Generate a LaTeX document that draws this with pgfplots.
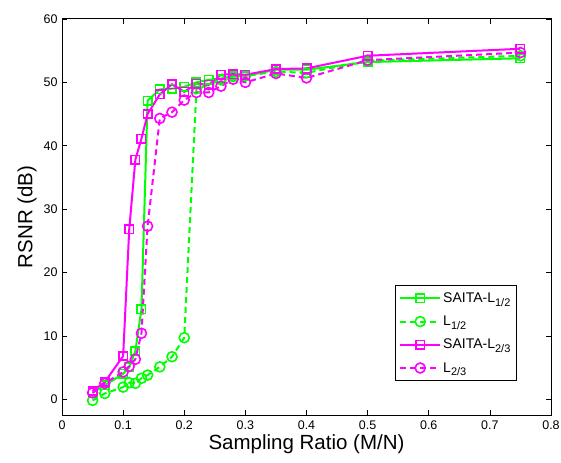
\documentclass[border=0pt]{standalone}
\usepackage{pgfplots}
\pgfplotsset{compat=1.18}
\usepackage{fontspec}
\setmainfont{Liberation Sans}
\definecolor{mg}{RGB}{0,255,0}
\definecolor{mm}{RGB}{255,0,255}
\newcommand{\sub}[1]{\raisebox{-0.5ex}{\fontsize{11}{12}\selectfont #1}}
\pgfplotstableread{
x     sa12  l12   sa23  l23
0.05  1.0   -0.2  1.3   1.0
0.07  2.2   0.9   2.7   2.5
0.10  4.0   1.9   6.8   4.3
0.11  5.0   2.6   26.8  5.2
0.12  7.6   2.5   37.8  6.3
0.13  14.2  3.3   41.1  10.4
0.14  47.1  3.8   45.0  27.3
0.16  48.9  5.1   48.1  44.3
0.18  49.0  6.7   49.7  45.3
0.20  49.3  9.7   48.5  47.2
0.22  50.0  49.0  49.8  48.4
0.24  50.4  49.6  49.6  48.4
0.26  50.6  50.4  51.2  49.4
0.28  51.0  50.9  51.3  50.5
0.30  51.0  51.0  51.2  50.0
0.35  52.0  51.7  52.1  51.4
0.40  52.0  51.5  52.2  50.7
0.50  53.2  53.4  54.2  53.5
0.75  53.8  54.2  55.3  54.7
}\data
\begin{document}
\begin{tikzpicture}
\begin{axis}[
  scale only axis,
  width=489pt, height=396pt,
  xmin=0, xmax=0.8, ymin=-2.5, ymax=60,
  xtick={0,0.1,...,0.8}, ytick={0,10,...,60},
  tick align=inside,
  major tick length=5pt,
  tick style={black, line width=0.6pt},
  axis line style={black, line width=1pt},
  /pgf/number format/assume math mode=true,
  /pgf/number format/fixed,
  ticklabel style={font=\fontsize{12.5}{14}\selectfont},
  xticklabel style={yshift=-2pt},
  yticklabel style={xshift=-1pt},
  xlabel={Sampling Ratio (M/N)},
  ylabel={RSNR (dB)},
  label style={font=\fontsize{20.5}{24}\selectfont},
  xlabel style={yshift=2pt},
  legend cell align=left,
  legend style={at={(0.930,0.086)}, anchor=south east, draw=black, line width=0.8pt,
    fill=white, font=\fontsize{14}{16}\selectfont, row sep=8pt,
    inner xsep=4pt, inner ysep=5pt},
  legend image code/.code={\draw[mark repeat=2,mark phase=2,#1] plot coordinates {(0pt,0pt)(20pt,0pt)(40pt,0pt)};},
]
\addplot[color=mg, line width=2pt, mark=square, mark size=4.2pt, mark options={solid, line width=1.6pt}] table[x=x,y=sa12] {\data};
\addlegendentry{SAITA-L\sub{1/2}}
\addplot[color=mg, line width=2pt, dash pattern=on 6pt off 4pt, mark=o, mark size=5pt, mark options={solid, line width=1.6pt}] table[x=x,y=l12] {\data};
\addlegendentry{L\sub{1/2}}
\addplot[color=mm, line width=2pt, mark=square, mark size=4.2pt, mark options={solid, line width=1.6pt}] table[x=x,y=sa23] {\data};
\addlegendentry{SAITA-L\sub{2/3}}
\addplot[color=mm, line width=2pt, dash pattern=on 6pt off 4pt, mark=o, mark size=5pt, mark options={solid, line width=1.6pt}] table[x=x,y=l23] {\data};
\addlegendentry{L\sub{2/3}}
\coordinate (ll) at (rel axis cs:0,0);
\coordinate (ur) at (rel axis cs:1,1);
\end{axis}
\pgfresetboundingbox
\path ([shift={(-62pt,-47pt)}]ll) rectangle ([shift={(10pt,19pt)}]ur);
\end{tikzpicture}
\end{document}
